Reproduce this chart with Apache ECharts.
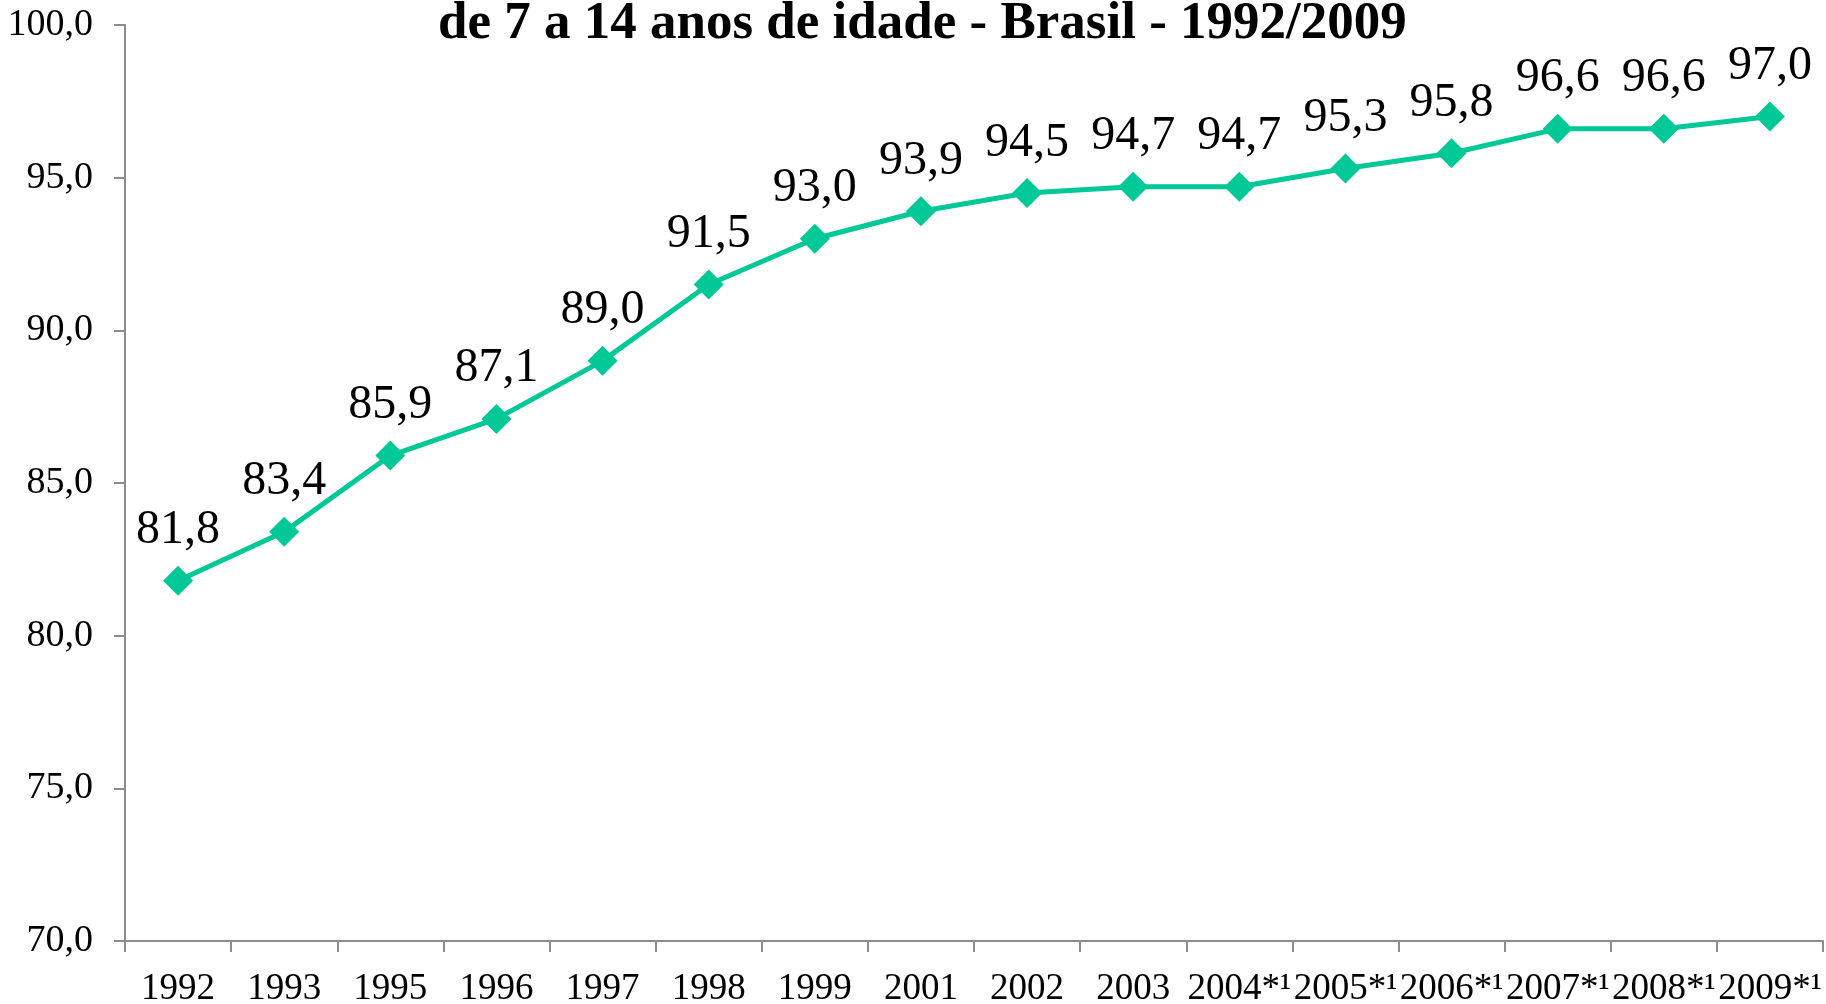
<!DOCTYPE html>
<html>
<head>
<meta charset="utf-8">
<script src="https://cdn.jsdelivr.net/npm/echarts@6/dist/echarts.min.js"></script>
<style>
  html, body { margin: 0; padding: 0; background: #ffffff; }
  #chart { width: 1826px; height: 1004px; }
</style>
</head>
<body>
<div id="chart"></div>
<script>
// Taxa de escolarização, 7 a 14 anos, Brasil
const years = ['1992', '1993', '1995', '1996', '1997', '1998', '1999', '2001', '2002', '2003',
               '2004*¹', '2005*¹', '2006*¹', '2007*¹', '2008*¹', '2009*¹'];
const taxa = [81.8, 83.4, 85.9, 87.1, 89.0, 91.5, 93.0, 93.9, 94.5, 94.7,
              94.7, 95.3, 95.8, 96.6, 96.6, 97.0];
const yTicks = [70, 75, 80, 85, 90, 95, 100];

const serif = '"Liberation Serif", "Times New Roman", serif';
const axisGray = '#8c8c8c';
const lineColor = '#00c896';

const fmt = v => Number(v).toFixed(1).replace('.', ',');

const chart = echarts.init(document.getElementById('chart'), null, { renderer: 'canvas' });
chart.setOption({
  animation: false,
  backgroundColor: '#ffffff',
  title: {
    text: 'de 7 a 14 anos de idade - Brasil - 1992/2009',
    left: 438,
    top: -2,
    padding: 0,
    textStyle: { fontFamily: serif, fontWeight: 'bold', fontSize: 53, color: '#000000' }
  },
  grid: { left: 125, right: 3, top: 25, bottom: 63, containLabel: false, outerBoundsMode: 'none' },
  xAxis: {
    type: 'category',
    data: years,
    boundaryGap: true,
    axisLine: { lineStyle: { color: axisGray, width: 2 } },
    axisTick: { show: true, length: 11, alignWithLabel: false, lineStyle: { color: axisGray, width: 2 } },
    axisLabel: { interval: 0, margin: 30, fontFamily: serif, fontSize: 37, color: '#000000' },
    splitLine: { show: false }
  },
  yAxis: {
    type: 'value',
    min: yTicks[0],
    max: yTicks[yTicks.length - 1],
    interval: yTicks[1] - yTicks[0],
    axisLine: { show: true, lineStyle: { color: axisGray, width: 2 } },
    axisTick: { show: true, length: 11, lineStyle: { color: axisGray, width: 2 } },
    axisLabel: { margin: 32, fontFamily: serif, fontSize: 38, color: '#000000', formatter: fmt },
    splitLine: { show: false }
  },
  series: [{
    type: 'line',
    data: taxa,
    symbol: 'diamond',
    symbolSize: 30,
    lineStyle: { color: lineColor, width: 5 },
    itemStyle: { color: lineColor },
    label: {
      show: true,
      position: 'top',
      distance: 11,
      fontFamily: serif,
      fontSize: 48,
      color: '#000000',
      formatter: p => fmt(p.value)
    }
  }]
});
</script>
</body>
</html>
